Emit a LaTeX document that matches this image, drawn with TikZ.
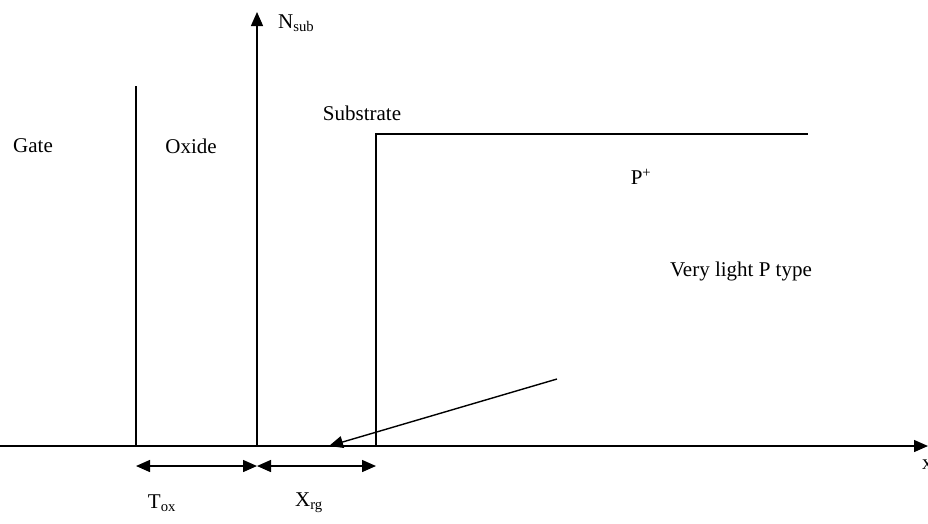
\documentclass[tikz,border=0pt]{standalone}
\usepackage{fontspec}
\setmainfont{Liberation Serif}
\usetikzlibrary{arrows.meta}
\tikzset{
  ln/.style={line width=1.4pt},
  arr/.style={ln,-{Triangle[length=14pt,width=12pt]}},
  darr/.style={ln,{Triangle[length=14pt,width=12pt]}-{Triangle[length=14pt,width=12pt]}},
  lbl/.style={font=\fontsize{21}{25}\selectfont, inner sep=0pt},
}
\begin{document}
\begin{tikzpicture}[x=1pt,y=-1pt]
\useasboundingbox (0,0) rectangle (928,523);
% coordinates
\coordinate (xo) at (0,446);
\coordinate (xe) at (928,446);
\coordinate (g0) at (136,446);
\coordinate (g1) at (136,86);
\coordinate (n0) at (257,446);
\coordinate (n1) at (257,12);
\coordinate (s0) at (376,446);
\coordinate (s1) at (376,134);
\coordinate (s2) at (808,134);
\coordinate (pstart) at (557,379);
\coordinate (ptip) at (329,446);
\coordinate (ta) at (136,466);
\coordinate (tb) at (257,466);
\coordinate (tc) at (376,466);
% axes and lines
\draw[arr] (xo) -- (xe);
\draw[arr] (n0) -- (n1);
\draw[ln] (g0) -- (g1);
\draw[ln] (s0) -- (s1) -- (s2);
\draw[arr] (pstart) -- (ptip);
\draw[darr] (ta) -- (tb);
\draw[darr] (tb) -- (tc);
% labels
\node[lbl] (gate) at (33,146) {Gate};
\node[lbl] (oxide) at (191,146) {Oxide};
\node[lbl] (subs) at (362,113) {Substrate};
\node[lbl] (pplus) at (641,177) {P\textsuperscript{+}};
\node[lbl] (vlp) at (741,271) {Very light P type};
\node[lbl,anchor=west] (nsub) at (278,23) {N\textsubscript{sub}};
\node[lbl] (tox) at (162,503) {T\textsubscript{ox}};
\node[lbl] (xrg) at (309,503) {X\textsubscript{rg}};
\node[lbl,anchor=west] (xl) at (922,465) {x};
\end{tikzpicture}
\end{document}
